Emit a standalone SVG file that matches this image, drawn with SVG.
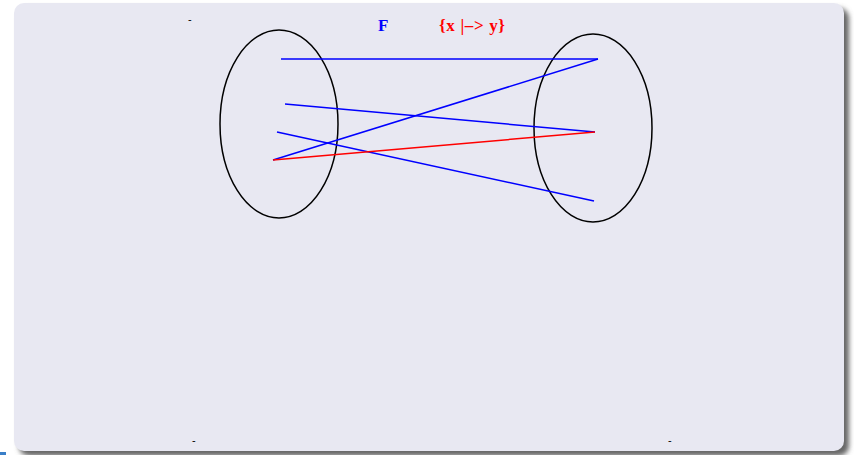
<svg xmlns="http://www.w3.org/2000/svg" width="854" height="455" viewBox="0 0 854 455">
<style>
.ell{fill:none;stroke:#000;stroke-width:1.5}
.b{stroke:#0000ff;stroke-width:1.5;fill:none}
.r{stroke:#ff0000;stroke-width:1.5;fill:none}
.t{font-family:"Liberation Serif",serif;font-weight:bold;font-size:17px}
.d{font-family:"Liberation Sans",sans-serif;font-size:11px;fill:#000}
</style>
<defs>
<filter id="sh" x="-5%" y="-5%" width="110%" height="110%">
<feGaussianBlur stdDeviation="2.5"/>
</filter>
</defs>
<rect width="854" height="455" fill="#ffffff"/>
<rect x="19" y="8" width="830" height="448" rx="10" fill="#666" filter="url(#sh)"/>
<rect x="14" y="3" width="830" height="448" rx="10" fill="#e8e8f2"/>
<rect x="0" y="452" width="6" height="3" fill="#3a7fc8"/>
<g id="left-set"><ellipse class="ell" cx="279" cy="124" rx="59" ry="94"/></g>
<g id="right-set"><ellipse class="ell" cx="593" cy="128" rx="59" ry="94"/></g>
<g id="connectors">
<line class="b" x1="281" y1="59" x2="598" y2="59"/>
<line class="b" x1="598" y1="59" x2="273" y2="160"/>
<line class="b" x1="285" y1="104" x2="595" y2="132"/>
<line class="b" x1="277" y1="132" x2="594" y2="201"/>
<line class="r" x1="273" y1="160" x2="595" y2="132"/>
</g>
<g id="labels">
<text class="t" x="378" y="31" fill="#0000ff">F</text>
<text class="t" x="439" y="31" fill="#ff0000" textLength="66" lengthAdjust="spacing">{x |–&gt; y}</text>
<text class="d" x="188" y="23">-</text>
<text class="d" x="192" y="444">-</text>
<text class="d" x="668" y="444">-</text>
</g>
</svg>
